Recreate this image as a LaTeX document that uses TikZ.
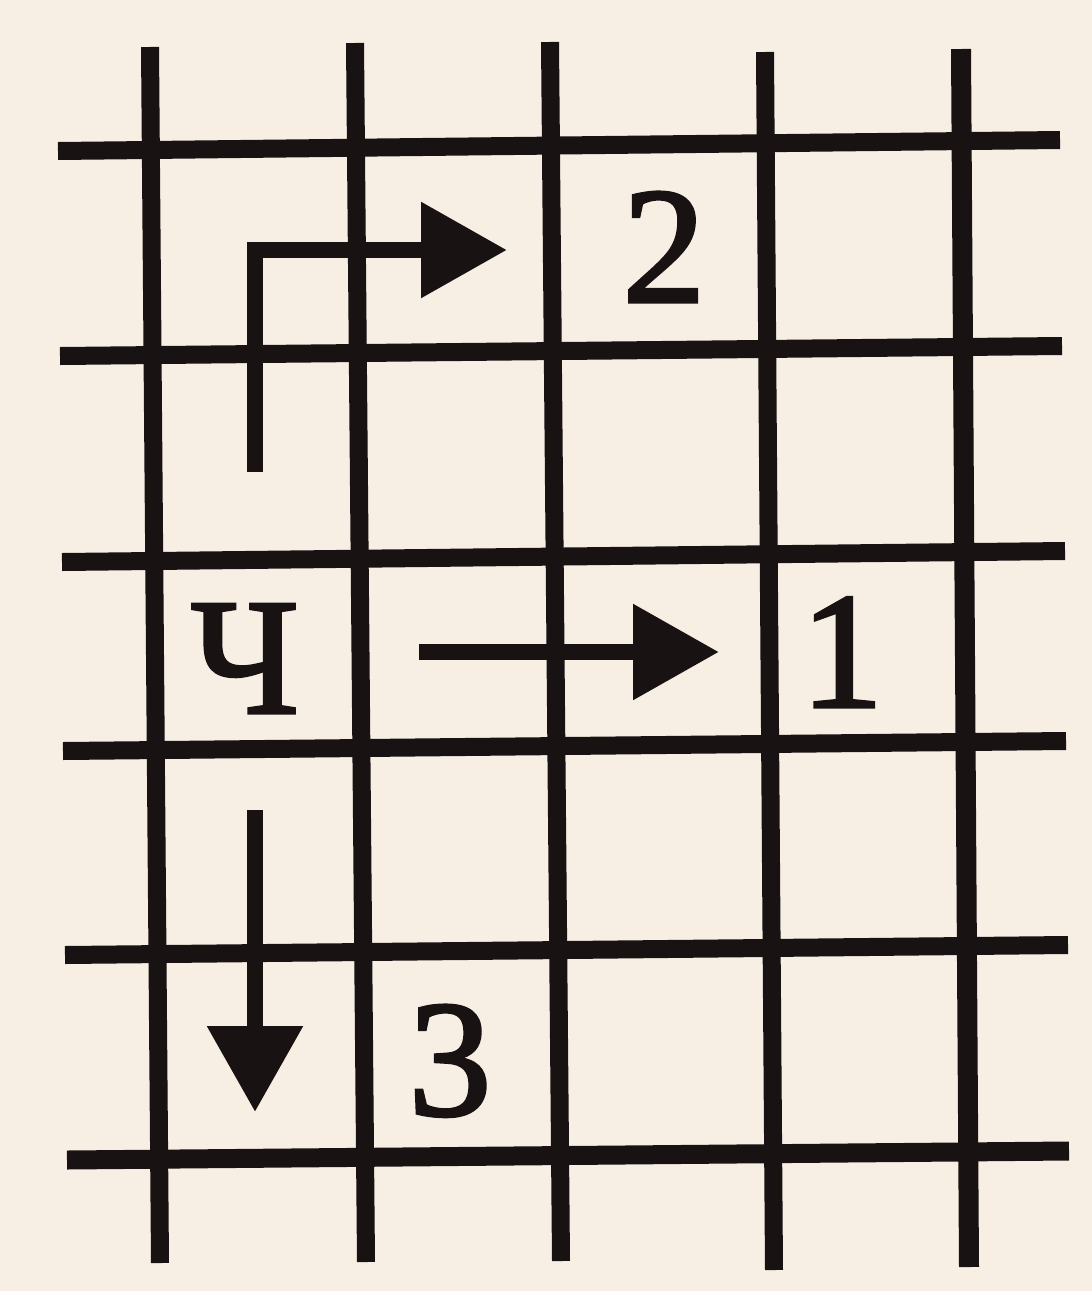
\documentclass[tikz,border=0pt]{standalone}
\usepackage{fontspec}
\setmainfont{Liberation Serif}
\newfontfamily\glyphfont[FakeBold=2]{Liberation Serif}
\usetikzlibrary{arrows.meta}
\definecolor{paper}{RGB}{247,239,228}
\definecolor{ink}{RGB}{24,18,18}
\tikzset{
  gridline/.style={draw=ink, line width=18pt, line cap=butt},
  arrowline/.style={draw=ink, line width=16pt, line join=miter,
    -{Triangle[length=86pt, width=92pt, fill=ink]}},
  glyph/.style={inner sep=0pt, anchor=base, text=ink,
    font=\glyphfont\fontsize{166}{166}\selectfont}
}
\begin{document}
\begin{tikzpicture}[x=1pt, y=-1pt]
\useasboundingbox (0,0) rectangle (1092,1291);
\fill[paper] (0,0) rectangle (1092,1291);
% vertical lines
\draw[gridline] (150,47) -- (160,1263);
\draw[gridline] (355,43) -- (366,1262);
\draw[gridline] (550,42) -- (561,1261);
\draw[gridline] (765,52) -- (774,1270);
\draw[gridline, line width=20pt] (961,49) -- (969,1267);
% horizontal lines
\draw[gridline] (58,151) -- (1060,140);
\draw[gridline] (60,356) -- (1062,346);
\draw[gridline] (62,562) -- (1065,551);
\draw[gridline] (63,751) -- (1066,741);
\draw[gridline] (65,955) -- (1068,945);
\draw[gridline, line width=19pt] (67,1160) -- (1069,1151);
% labels
\node[glyph] (ch) at (245,713) {Ч};
\node[glyph] (n1) at (842,707) {1};
\node[glyph] (n2) at (664,302) {2};
\node[glyph] (n3) at (450,1115) {3};
% arrows
\coordinate (a2s) at (255,472);
\coordinate (a2c) at (255,250);
\coordinate (a2e) at (507,250);
\coordinate (a1s) at (419,652);
\coordinate (a1e) at (719,652);
\coordinate (a3s) at (255,810);
\coordinate (a3e) at (255,1112);
\draw[arrowline] (a2s) -- (a2c) -- (a2e);
\draw[arrowline] (a1s) -- (a1e);
\draw[arrowline] (a3s) -- (a3e);
\end{tikzpicture}
\end{document}
